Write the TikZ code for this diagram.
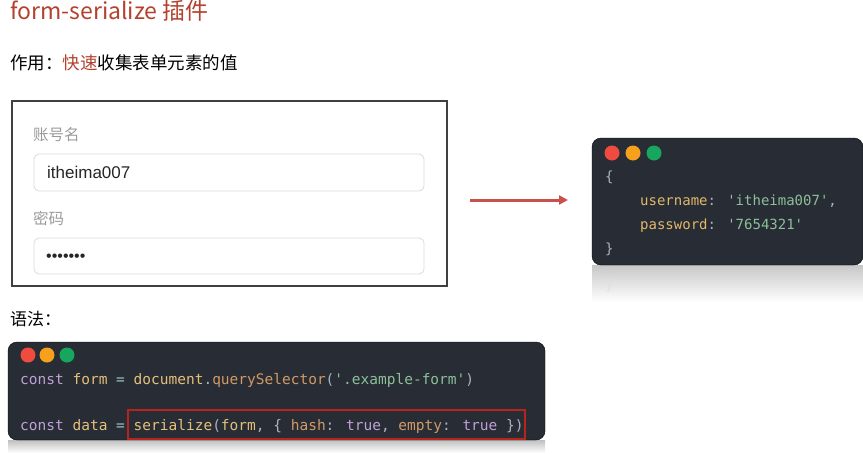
\documentclass[tikz,border=0pt]{standalone}
\usepackage{fontspec}
\setmainfont{Noto Sans CJK SC}
\newfontfamily\codefont{DejaVu Sans Mono}
\newfontfamily\latinfont{Liberation Sans}
\usetikzlibrary{arrows.meta,shadings}
\definecolor{titlered}{HTML}{B4412E}
\definecolor{codebg}{HTML}{282C34}
\definecolor{dotred}{HTML}{EF4B3F}
\definecolor{dotorange}{HTML}{F7A01B}
\definecolor{dotgreen}{HTML}{17A65D}
\definecolor{ckey}{HTML}{E2B86B}
\definecolor{cstr}{HTML}{8DC09A}
\definecolor{cpunc}{HTML}{ABB2BF}
\definecolor{ckw}{HTML}{C0A0D8}
\definecolor{cvar}{HTML}{E5C07B}
\definecolor{cfun}{HTML}{D19A66}
\definecolor{cop}{HTML}{9CC3C9}
\definecolor{boxred}{HTML}{B8231E}
\definecolor{arrowred}{HTML}{C8524A}
\definecolor{labelgray}{HTML}{9A9A9A}
\definecolor{inputborder}{HTML}{DADADA}
\newcommand\qq{\textquotesingle}
\tikzset{
  txt/.style={inner sep=0pt, anchor=base west},
  codebox/.style={fill=codebg, rounded corners=9pt},
  win/.style={circle, inner sep=0pt, minimum size=15pt},
  inputbox/.style={draw=inputborder, line width=0.8pt, rounded corners=5pt},
  codetxt/.style={txt, font=\codefont\fontsize{14.5}{17}\selectfont, text=cpunc},
  codetxtr/.style={txt, font=\codefont\fontsize{14}{17}\selectfont, text=cpunc},
}
\begin{document}
\begin{tikzpicture}[x=1pt,y=-1pt]
\useasboundingbox (0,0) rectangle (863,453);
% title
\node[txt, font=\fontsize{23}{27}\selectfont, text=titlered] (title) at (10,19.5) {form-serialize 插件};
\node[txt, font=\fontsize{17.5}{21}\selectfont] (purpose) at (10,69) {作用：\textcolor{titlered}{快速}收集表单元素的值};
% form
\draw[draw=black!75, line width=1.2pt] (12,101) rectangle (447,286);
\node[txt, font=\fontsize{15.5}{19}\selectfont, text=labelgray] (lbluser) at (33,140.5) {账号名};
\draw[inputbox] (34,154) rectangle (424,191);
\node[txt, font=\latinfont\fontsize{17}{20}\selectfont, text=black!85] (user) at (47,178) {itheima007};
\node[txt, font=\fontsize{15.5}{19}\selectfont, text=labelgray] (lblpass) at (33,224.5) {密码};
\draw[inputbox] (34,238) rectangle (424,274);
\node[txt, font=\latinfont\fontsize{16}{20}\selectfont, text=black!85] (pass) at (46,261) {•••••••};
% arrow
\coordinate (a1) at (470,200);
\coordinate (a2) at (568,200);
\draw[arrowred, line width=3pt, -{Triangle[length=9pt,width=9pt]}] (a1) -- (a2);
% right code box reflection
\shade[top color=black!22, bottom color=white] (592,265) rectangle (863,302);
\node[txt, font=\codefont\fontsize{14}{17}\selectfont, text=black!12] (refl) at (605,289) {\}};
% right code box
\draw[codebox] (592,138) -- (863,138) -- (863,265) -- (592,265) -- cycle;
\node[win, fill=dotred] (r1) at (612,153) {};
\node[win, fill=dotorange] (r2) at (633,153) {};
\node[win, fill=dotgreen] (r3) at (654,153) {};
\node[codetxtr] (ro) at (605,181) {\{};
\node[codetxtr] (ru) at (640,205) {\textcolor{ckey}{username}: \textcolor{cstr}{\qq itheima007\qq},};
\node[codetxtr] (rp) at (640,229) {\textcolor{ckey}{password}: \textcolor{cstr}{\qq 7654321\qq}};
\node[codetxtr] (rc) at (605,253) {\}};
% syntax label
\node[txt, font=\fontsize{17}{20}\selectfont] (syntax) at (10,325) {语法：};
% bottom reflection
\shade[top color=black!25, bottom color=white] (8,440) rectangle (545,453);
% bottom code box
\draw[codebox] (8,342) rectangle (545,440);
\node[win, fill=dotred] (b1) at (28,355) {};
\node[win, fill=dotorange] (b2) at (47,355) {};
\node[win, fill=dotgreen] (b3) at (67,355) {};
\node[codetxt] (l1) at (20,384) {\textcolor{ckw}{const} \textcolor{cvar}{form} \textcolor{cop}{=} \textcolor{cvar}{document}.\textcolor{cfun}{querySelector}(\textcolor{cstr}{\qq.example-form\qq})};
\node[codetxt] (l2) at (20,430) {\textcolor{ckw}{const} \textcolor{cvar}{data} \textcolor{cop}{=} \textcolor{cvar}{serialize}(\textcolor{cvar}{form}, \{ \textcolor{cfun}{hash}: \textcolor{ckw}{true}, \textcolor{cfun}{empty}: \textcolor{ckw}{true} \})};
\draw[boxred, line width=2pt] (128,410) rectangle (525,439);
\end{tikzpicture}
\end{document}
